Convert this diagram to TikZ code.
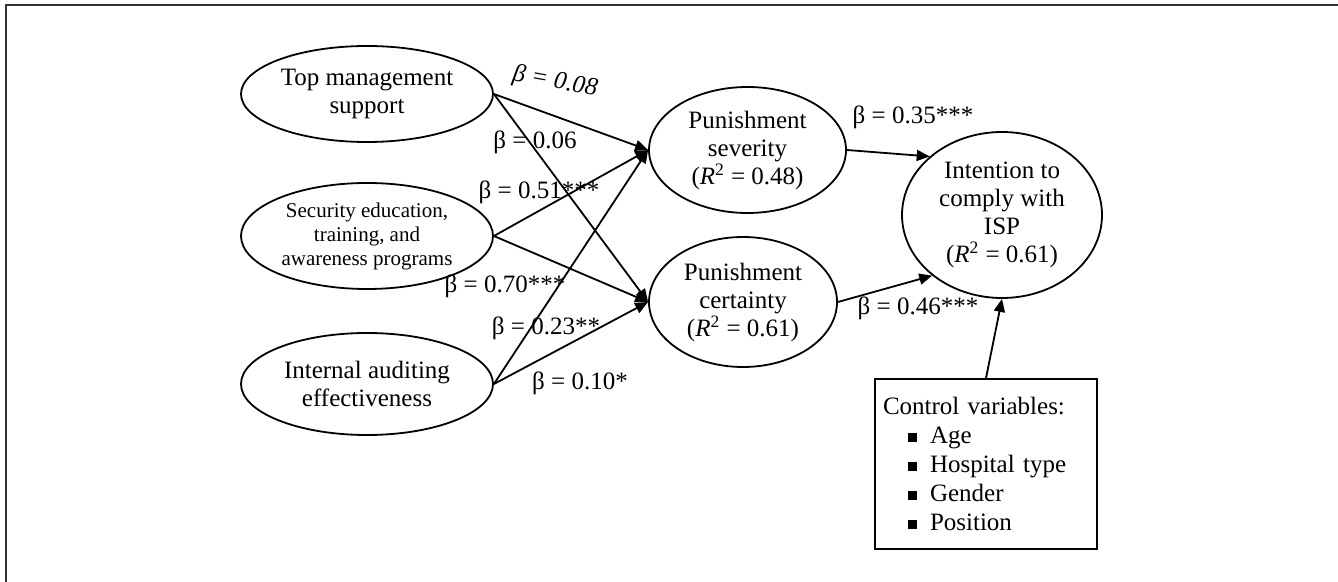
\documentclass[tikz,border=0pt]{standalone}
\usepackage{fontspec}
\setmainfont{Liberation Serif}
\usetikzlibrary{shapes.geometric,arrows.meta}

\begin{document}
\begin{tikzpicture}[x=0.5pt,y=-0.5pt,
  construct/.style={draw,ellipse,line width=0.9pt,inner sep=0pt,align=center,
    font=\fontsize{12.5pt}{14pt}\selectfont},
  coef/.style={inner sep=1pt,font=\fontsize{12.5pt}{14pt}\selectfont},
  effect/.style={line width=0.9pt,-{Triangle[length=6.5pt,width=5.5pt]}}
]
  \useasboundingbox (0,0) rectangle (1338,582);
  \draw[line width=1pt,black!80] (1338,5.5) -- (5.5,5.5) -- (5.5,582);

  % antecedents
  \node[construct,minimum width=126pt,minimum height=48pt] (tms) at (367,94) {Top management\\support};
  \node[construct,minimum width=126pt,minimum height=53pt,
    font=\fontsize{10.5pt}{12pt}\selectfont] (seta) at (367,236) {Security education,\\training, and\\awareness programs};
  \node[construct,minimum width=126pt,minimum height=51pt] (iae) at (367,384) {Internal auditing\\effectiveness};

  % mediators and outcome
  \node[construct,minimum width=98.5pt,minimum height=63pt] (sev) at (747.5,150) {Punishment\\severity\\(\textit{R}\textsuperscript{2} = 0.48)};
  \node[construct,minimum width=94pt,minimum height=65pt] (cert) at (743,302) {Punishment\\certainty\\(\textit{R}\textsuperscript{2} = 0.61)};
  \node[construct,minimum width=100pt,minimum height=83pt,inner ysep=-4pt] (isp) at (1002,215) {Intention to\\comply with\\ISP\\(\textit{R}\textsuperscript{2} = 0.61)};

  \node[draw,line width=0.9pt,inner sep=4pt,text width=103pt,minimum height=85pt,align=left,
    font=\fontsize{12.5pt}{14.5pt}\selectfont] (ctrl) at (986,464)
    {Control variables:\\
     \hspace*{12.5pt}\rule[0.8pt]{4.5pt}{4.5pt}\hspace{6.5pt}Age\\
     \hspace*{12.5pt}\rule[0.8pt]{4.5pt}{4.5pt}\hspace{6.5pt}Hospital type\\
     \hspace*{12.5pt}\rule[0.8pt]{4.5pt}{4.5pt}\hspace{6.5pt}Gender\\
     \hspace*{12.5pt}\rule[0.8pt]{4.5pt}{4.5pt}\hspace{6.5pt}Position};

  % paths
  \draw[effect] (tms.east) -- (sev.west);
  \draw[effect] (tms.east) -- (cert.west);
  \draw[effect] (seta.east) -- (sev.west);
  \draw[effect] (seta.east) -- (cert.west);
  \draw[effect] (iae.east) -- (sev.west);
  \draw[effect] (iae.east) -- (cert.west);
  \draw[effect] (sev.east) -- (isp.141);
  \draw[effect] (cert.east) -- (isp.221);
  \draw[effect] (ctrl.north) -- (isp.south);

  % coefficients
  \node[coef,rotate=-10] (b1) at (555,82) {\itshape β = 0.08};
  \node[coef] (b2) at (535,142) {β = 0.06};
  \node[coef] (b3) at (539,192) {β = 0.51***};
  \node[coef] (b4) at (505,286) {β = 0.70***};
  \node[coef] (b5) at (546,328) {β = 0.23**};
  \node[coef] (b6) at (580,383) {β = 0.10*};
  \node[coef] (b7) at (913,117) {β = 0.35***};
  \node[coef] (b8) at (918,308) {β = 0.46***};
\end{tikzpicture}
\end{document}
